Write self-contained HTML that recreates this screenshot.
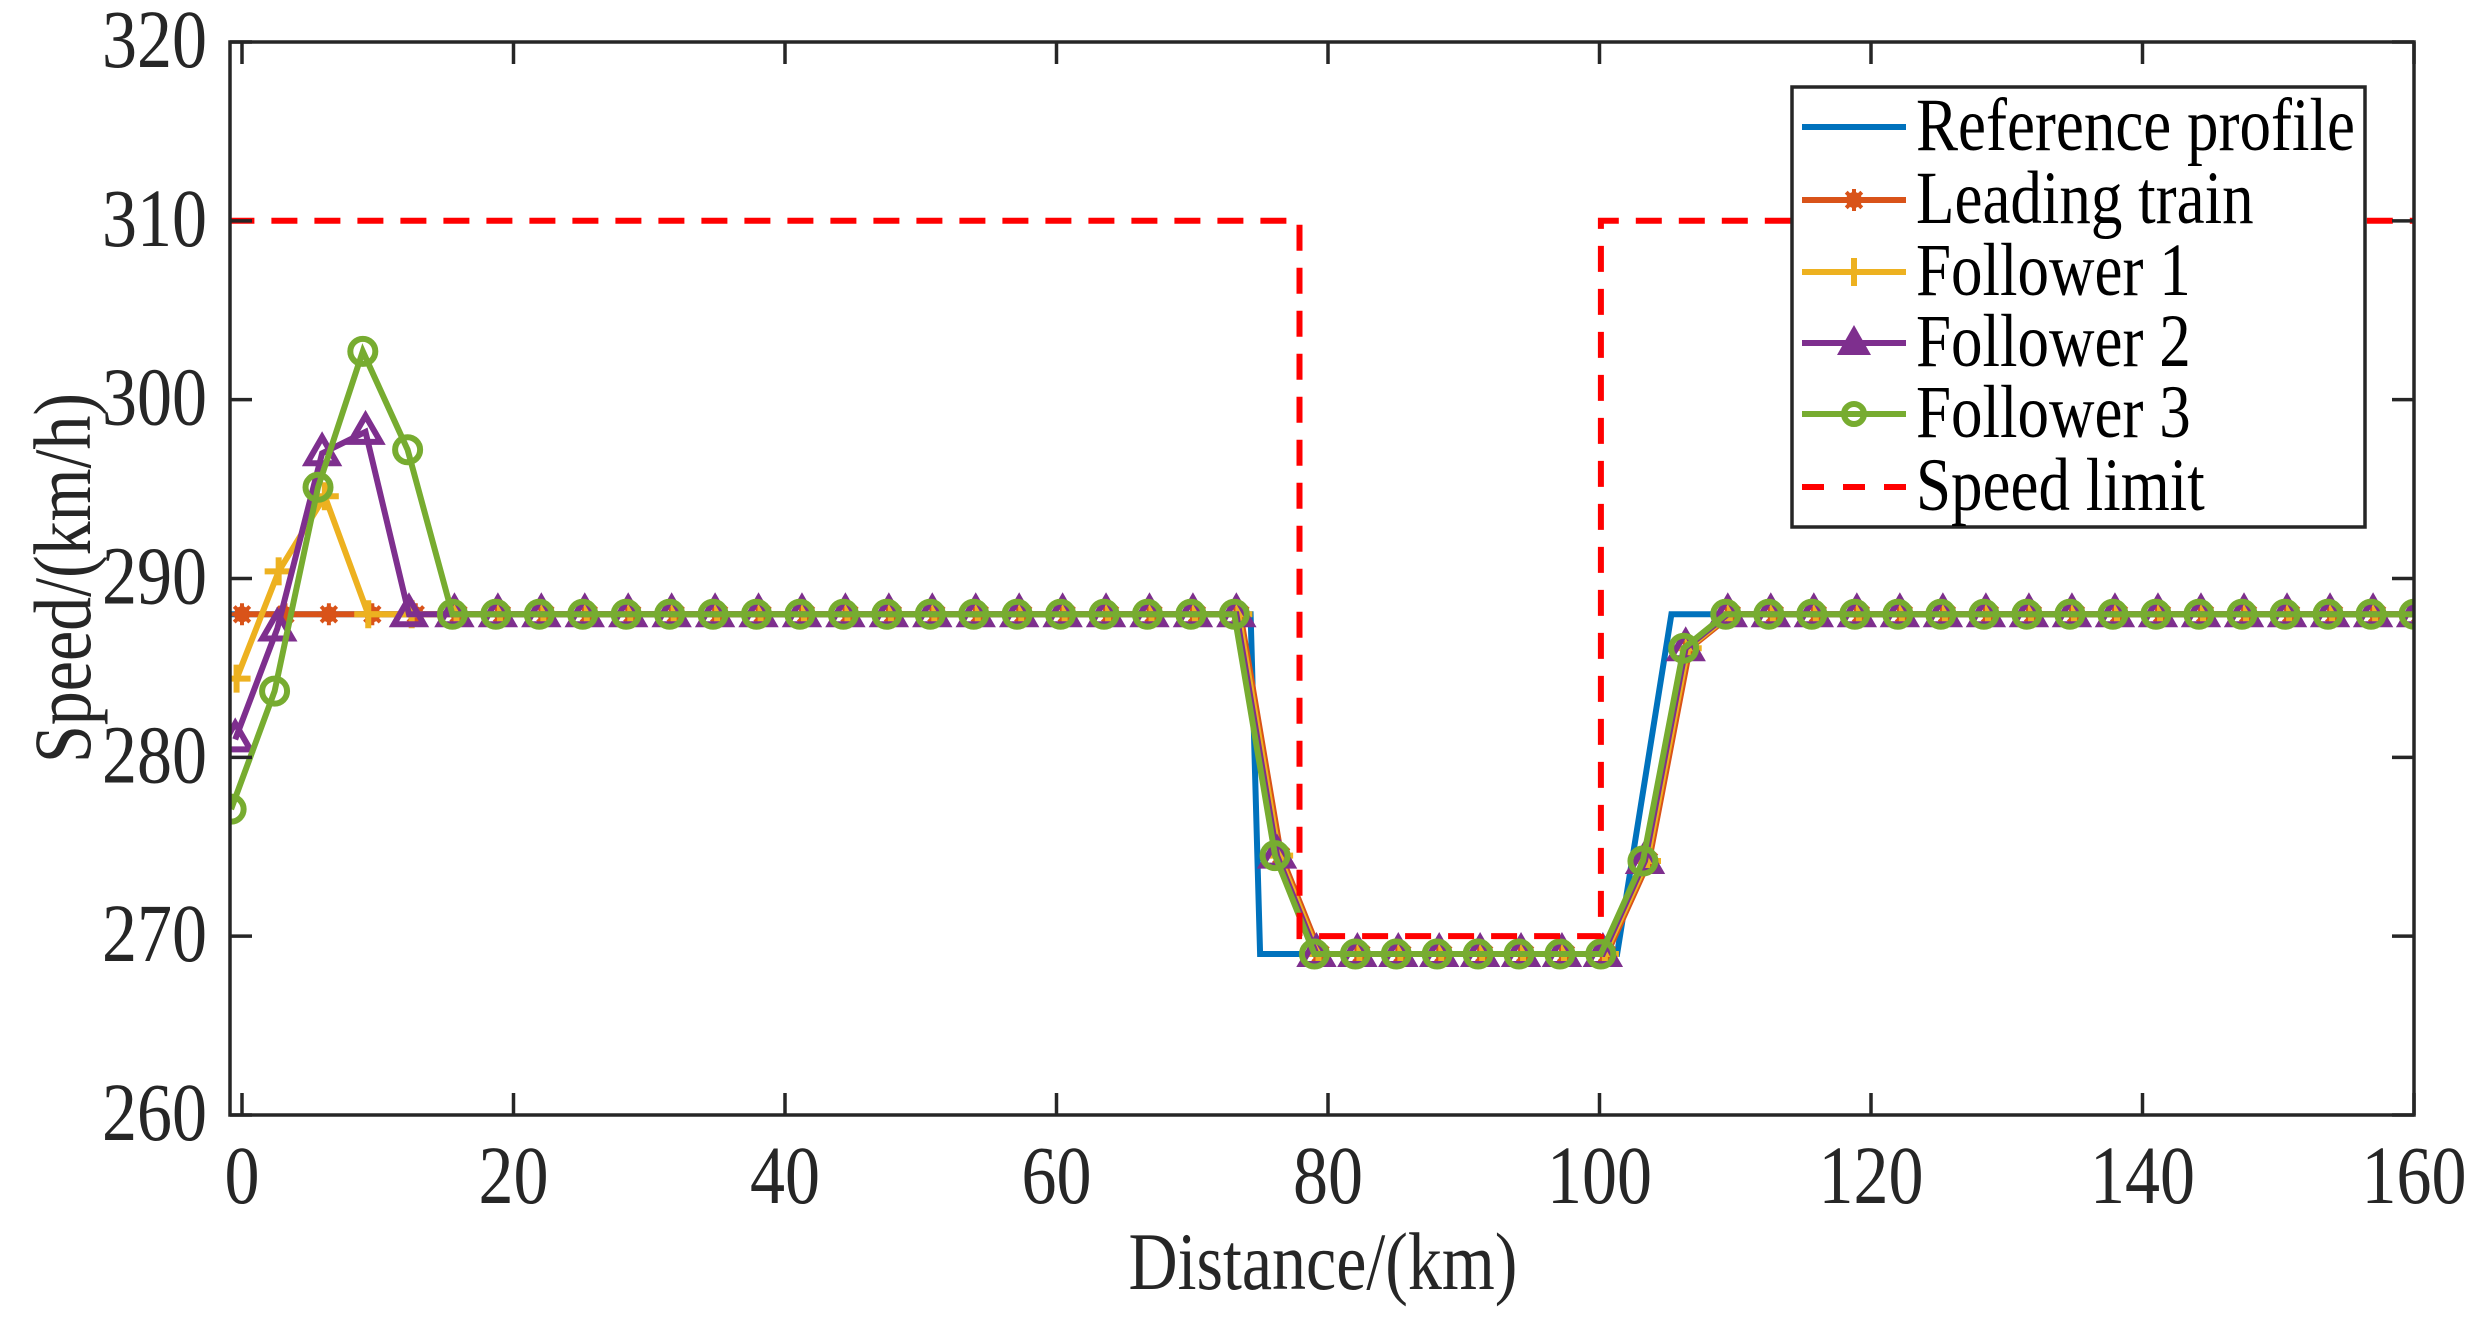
<!DOCTYPE html>
<html><head><meta charset="utf-8">
<style>
html,body{margin:0;padding:0;background:#fff;}
svg{display:block;}
text{font-family:"Liberation Serif",serif;fill:#262626;}
</style></head>
<body>
<svg id="s" width="2485" height="1321" viewBox="0 0 2485 1321" xmlns="http://www.w3.org/2000/svg">
<rect width="2485" height="1321" fill="#fff"/>
<g id="plot"></g>
<g id="axes"></g>
</svg>
<script>
(function(){
var NS="http://www.w3.org/2000/svg";
var L=230,R=2414,T=42,B=1115;
function X(v){return 242+v*13.575;}
function Y(v){return 42+(320-v)*17.883;}
function el(tag,attrs,parent,txt){var e=document.createElementNS(NS,tag);for(var k in attrs)e.setAttribute(k,attrs[k]);if(txt!==undefined)e.textContent=txt;parent.appendChild(e);return e;}
function txt(x,y,s,size,anchor,sy,rot,fill){
  var tr='translate('+x+','+y+')'+(rot?' rotate('+rot+')':'')+' scale(1,'+sy+')';
  var a={x:0,y:0,'font-size':size,transform:tr};
  if(anchor)a['text-anchor']=anchor;
  if(fill)a.style='fill:'+fill;
  return el('text',a,axes,s);
}
var plot=document.getElementById('plot'),axes=document.getElementById('axes');
el('clipPath',{id:'cp'},document.getElementById('s'));
el('rect',{x:L,y:T,width:R-L,height:B-T},document.querySelector('#cp'));
plot.setAttribute('clip-path','url(#cp)');

function grid(off){
  var p=[];
  for(var i=0;i<=18;i++)p.push([15.5+i*3.2+off,288]);
  p.push([76.1+off,274.5]);p.push([79.0+off,269]);
  for(var i=1;i<=7;i++)p.push([79.0+i*3.014+off,269]);
  p.push([103.2+off,274.2]);p.push([106.2+off,286.1]);p.push([109.3+off,288]);
  for(var i=1;i<=16;i++)p.push([109.3+i*3.169+off,288]);
  return p;
}
var green=[[-0.8,277.1],[2.4,283.7],[5.6,295.1],[8.9,302.7],[12.2,297.2]].concat(grid(0));
var purple=[[-0.5,281],[2.6,287.2],[5.9,297],[9.1,298.2],[12.3,288]].concat(grid(0.15));
var yellow=[[-0.4,284.4],[2.7,290.4],[6.1,294.6],[9.3,288],[12.5,288]].concat(grid(0.3));
var orange=[[0,288],[3.2,288],[6.4,288],[9.6,288],[12.8,288]].concat(grid(0.45));
var blue=[[-1,288],[74.3,288],[75.0,269],[101.3,269],[105.3,288],[161,288]];

function pts(a){return a.map(function(p){return X(p[0]).toFixed(1)+','+Y(p[1]).toFixed(1);}).join(' ');}
function line(a,c,w){el('polyline',{points:pts(a),fill:'none',stroke:c,'stroke-width':w,'stroke-linejoin':'miter'},plot);}
function marker(type,x,y,c,g){
  if(type==='star'){
    el('circle',{cx:x,cy:y,r:8,fill:c},g);
    for(var a=0;a<4;a++){var an=a*Math.PI/4,dx=Math.cos(an)*11,dy=Math.sin(an)*11;
      el('line',{x1:x-dx,y1:y-dy,x2:x+dx,y2:y+dy,stroke:c,'stroke-width':4},g);}
  }else if(type==='plus'){
    el('line',{x1:x-14,y1:y,x2:x+14,y2:y,stroke:c,'stroke-width':6},g);
    el('line',{x1:x,y1:y-14,x2:x,y2:y+14,stroke:c,'stroke-width':6},g);
  }else if(type==='tri'){
    el('polygon',{points:x+','+(y-16)+' '+(x-15)+','+(y+10)+' '+(x+15)+','+(y+10),fill:'none',stroke:c,'stroke-width':6,'stroke-linejoin':'miter'},g);
  }else if(type==='circ'){
    el('circle',{cx:x,cy:y,r:12.5,fill:'none',stroke:c,'stroke-width':6},g);
  }
}
function series(a,c,type){line(a,c,6);a.forEach(function(p){marker(type,X(p[0]),Y(p[1]),c,plot);});}
line(blue,'#0072BD',6);
series(orange,'#D95319','star');
series(yellow,'#EDB120','plus');
series(purple,'#7E2F8E','tri');
series(green,'#77AC30','circ');
var sl=[[-1,310],[77.9,310],[77.9,270],[100.1,270],[100.1,310],[161,310]];
el('polyline',{points:pts(sl),fill:'none',stroke:'#FF0000','stroke-width':6,'stroke-dasharray':'26,17'},plot);

var ac='#262626';
el('rect',{x:L,y:T,width:R-L,height:B-T,fill:'none',stroke:ac,'stroke-width':3.5},axes);
for(var v=0;v<=160;v+=20){var x=X(v);
  el('line',{x1:x,y1:B,x2:x,y2:B-22,stroke:ac,'stroke-width':3.5},axes);
  el('line',{x1:x,y1:T,x2:x,y2:T+22,stroke:ac,'stroke-width':3.5},axes);
  txt(x,1203,String(v),70,'middle',1.18);}
for(var v=260;v<=320;v+=10){var y=Y(v);
  el('line',{x1:L,y1:y,x2:L+22,y2:y,stroke:ac,'stroke-width':3.5},axes);
  el('line',{x1:R,y1:y,x2:R-22,y2:y,stroke:ac,'stroke-width':3.5},axes);
  txt(207,y+25,String(v),70,'end',1.18);}
txt(1323,1289,'Distance/(km)',68,'middle',1.2);
txt(90,578,'Speed/(km/h)',68,'middle',1.2,-90);

el('rect',{x:1792,y:87,width:573,height:440,fill:'#fff',stroke:ac,'stroke-width':3.5},axes);
var items=[['Reference profile','#0072BD',null],['Leading train','#D95319','star'],['Follower 1','#EDB120','plus'],['Follower 2','#7E2F8E','tri'],['Follower 3','#77AC30','circ'],['Speed limit','#FF0000','dash']];
var rows=[127,200,272,343,414,487];
items.forEach(function(it,i){var y=rows[i];
  if(it[2]==='dash'){el('line',{x1:1802,y1:y,x2:1906,y2:y,stroke:it[1],'stroke-width':6,'stroke-dasharray':'22,19'},axes);}
  else{el('line',{x1:1802,y1:y,x2:1906,y2:y,stroke:it[1],'stroke-width':6},axes);
    if(it[2]){var g=axes; if(it[2]==='tri'){el('polygon',{points:'1854,'+(y-18)+' 1837,'+(y+12)+' 1871,'+(y+12),fill:it[1]},g);} else if(it[2]==='circ'){el('circle',{cx:1854,cy:y,r:10,fill:'none',stroke:it[1],'stroke-width':6},g);} else marker(it[2],1854,y,it[1],g);}}
  txt(1916,y+23,it[0],63,null,1.2,null,'#000');
});
})();
</script>
</body></html>
